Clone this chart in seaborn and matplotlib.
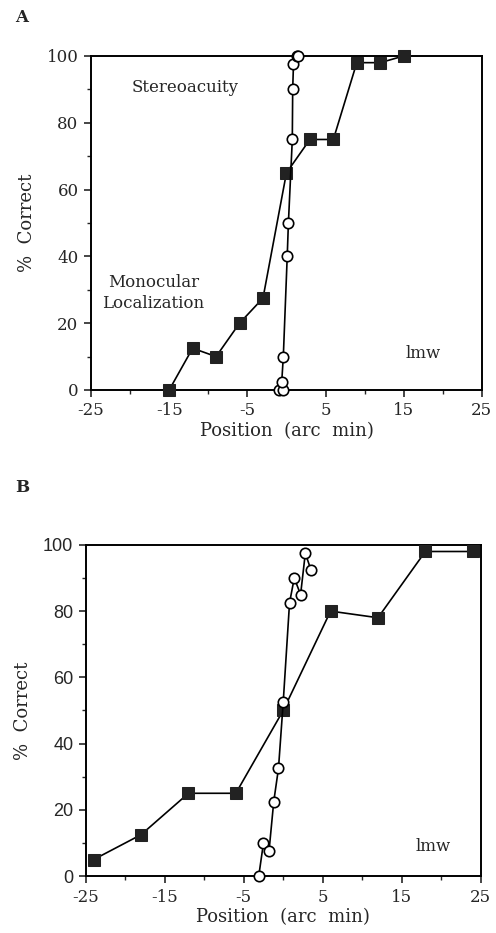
import numpy as np
import pandas as pd
import seaborn as sns
import matplotlib.pyplot as plt
from matplotlib.ticker import MultipleLocator, FixedLocator

# panel A data
a_mono_x = [-15, -12, -9, -6, -3, 0, 3, 6, 9, 12, 15]
a_mono_y = [0, 12.5, 10, 20, 27.5, 65, 75, 75, 98, 98, 100]
a_stereo_x = [-1.0, -0.5, -0.6, -0.4, 0.1, 0.25, 0.75, 0.8, 0.9, 1.3, 1.5]
a_stereo_y = [0, 0, 2.5, 10, 40, 50, 75, 90, 97.5, 100, 100]

# panel B data
b_mono_x = [-24, -18, -12, -6, 0, 6, 12, 18, 24]
b_mono_y = [5, 12.5, 25, 25, 50, 80, 78, 98, 98]
b_stereo_x = [-3.1, -2.5, -1.8, -1.2, -0.6, 0.0, 0.8, 1.4, 2.2, 2.8, 3.5]
b_stereo_y = [0, 10, 7.5, 22.5, 32.5, 52.5, 82.5, 90, 85, 97.5, 92.5]

xticks = [-25, -15, -5, 5, 15, 25]
xticklabels = ['-25', '-15', '-5', '5', '15', '25']
yticks = [0, 20, 40, 60, 80, 100]

sns.set_style("ticks")
plt.rcParams['font.family'] = ['DejaVu Serif']

fig = plt.figure(figsize=(4.96, 9.33), dpi=100)
axA = fig.add_axes([0.1835, 0.582, 0.788, 0.358])
axB = fig.add_axes([0.173, 0.061, 0.796, 0.355])


def draw(ax, mx, my, sx, sy, ysans=False):
    sns.lineplot(x=mx, y=my, ax=ax, sort=False, estimator=None, color='black',
                 lw=1.2, marker='s', markersize=8.8, markerfacecolor='#222222',
                 markeredgecolor='#222222', clip_on=False, zorder=3)
    sns.lineplot(x=sx, y=sy, ax=ax, sort=False, estimator=None, color='black',
                 lw=1.2, marker='o', markersize=7.5, markerfacecolor='white',
                 markeredgecolor='black', markeredgewidth=1.2, clip_on=False, zorder=4)
    ax.set_xlim(-25, 25)
    ax.set_ylim(0, 100)
    ax.xaxis.set_major_locator(FixedLocator(xticks))
    ax.set_xticklabels(xticklabels)
    ax.xaxis.set_minor_locator(MultipleLocator(5))
    ax.set_yticks(yticks)
    ax.yaxis.set_minor_locator(MultipleLocator(10))
    ax.tick_params(which='major', direction='out', length=5, width=1.2, labelsize=12, pad=4)
    ax.tick_params(which='minor', direction='out', length=3, width=1.0)
    if ysans:
        for t in ax.get_yticklabels():
            t.set_family('Liberation Sans')
            t.set_fontsize(13)
    for s in ax.spines.values():
        s.set_linewidth(1.4)
        s.set_color('black')
    ax.set_xlabel('Position  (arc  min)', fontsize=13, labelpad=2)
    ax.set_ylabel('%  Correct', fontsize=13, labelpad=8)


draw(axA, a_mono_x, a_mono_y, a_stereo_x, a_stereo_y)
draw(axB, b_mono_x, b_mono_y, b_stereo_x, b_stereo_y, ysans=True)

axA.text(-13, 90.5, 'Stereoacuity', fontsize=12, ha='center', va='center')
axA.text(-17, 29, 'Monocular\nLocalization', fontsize=12, ha='center', va='center',
         linespacing=1.3)
axA.text(17.5, 11, 'lmw', fontsize=12, ha='center', va='center')
axB.text(19, 9, 'lmw', fontsize=12, ha='center', va='center')

fig.text(0.044, 0.981, 'A', fontsize=12, fontweight='bold', ha='center', va='center')
fig.text(0.044, 0.477, 'B', fontsize=12, fontweight='bold', ha='center', va='center')

fig.savefig('out.png', dpi=100)
